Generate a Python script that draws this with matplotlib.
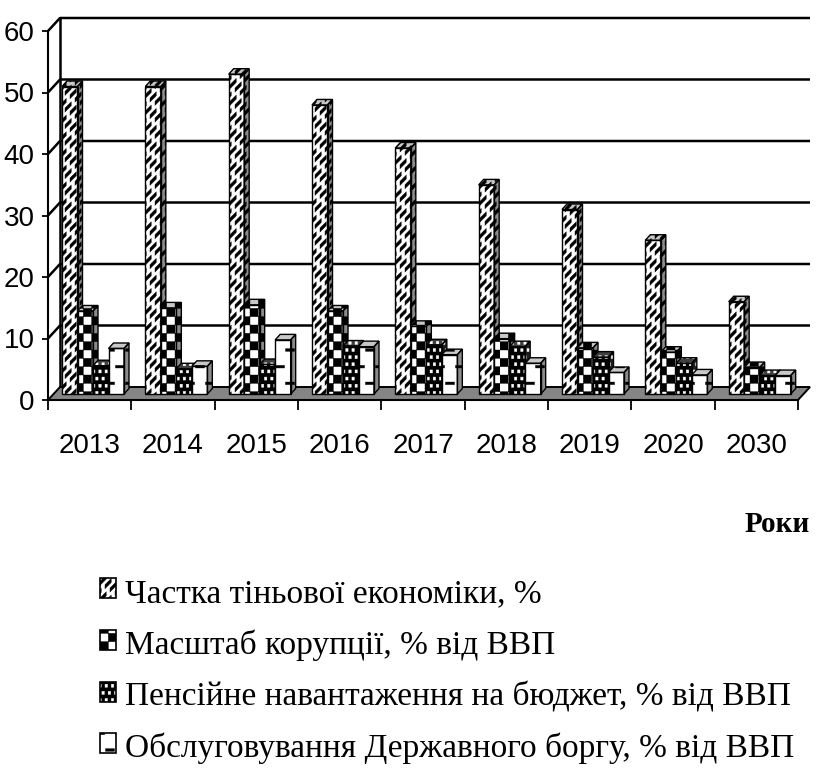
import warnings
import numpy as np
import matplotlib
matplotlib.use("Agg")
import matplotlib.pyplot as plt
import matplotlib.hatch as mhatch
from matplotlib.path import Path
from matplotlib.patches import Polygon, Rectangle
from matplotlib.transforms import ScaledTranslation

warnings.filterwarnings("ignore")

# ---------------------------------------------------------------- data
years = ["2013", "2014", "2015", "2016", "2017", "2018", "2019", "2020", "2030"]
shadow_economy = [50, 50, 52, 47, 40, 34, 30, 25, 15]
corruption = [13.5, 14, 14.5, 13.5, 11, 9, 7.5, 6.8, 4.3]
pension_load = [4.6, 4.1, 4.8, 7.8, 8.0, 7.7, 6.0, 5.0, 3.0]
debt_service = [7.4, 4.5, 8.8, 7.7, 6.4, 5.0, 3.5, 3.1, 3.0]
series_labels = [
    "Частка тіньової економіки, %",
    "Масштаб корупції, % від ВВП",
    "Пенсійне навантаження на бюджет, % від ВВП",
    "Обслуговування Державного боргу, % від ВВП",
]
y_ticks = [0, 10, 20, 30, 40, 50, 60]
x_title = "Роки"


# ------------------------------------------------------- fill patterns
def _tile(polys):
    verts, codes = [], []
    for p in polys:
        p = list(p)
        verts += p + [p[0]]
        codes += [Path.MOVETO] + [Path.LINETO] * (len(p) - 1) + [Path.CLOSEPOLY]
    return np.array(verts, float), np.array(codes, dtype=Path.code_type)


def _rect(x0, y0, w, h):
    return [(x0, y0), (x0 + w, y0), (x0 + w, y0 + h), (x0, y0 + h)]


def _diag_dashes():
    polys = []
    n_lines, n_dash, th = 12, 10, 0.04
    for k in range(-n_lines, 2 * n_lines):
        c = k / n_lines
        for j in range(-2, n_dash + 2):
            x0 = j / n_dash + (k % 2) * 0.05
            x1 = x0 + 0.062
            polys.append([(x0, x0 + c - th / 2), (x1, x1 + c - th / 2),
                          (x1, x1 + c + th / 2), (x0, x0 + c + th / 2)])
    return polys


def _checker():
    n = 12
    return [_rect(i / n, j / n, 1 / n, 1 / n)
            for i in range(n) for j in range(n) if (i + j) % 2 == 0]


def _dots():
    nx, ny = 16, 14
    polys = []
    for j in range(ny + 1):
        off = 0.5 / nx if j % 2 else 0.0
        for i in range(-1, nx + 1):
            polys.append(_rect(i / nx + off - 0.012, j / ny - 0.015, 0.024, 0.03))
    return polys


def _dashes():
    nx, ny = 5, 6
    polys = []
    for j in range(ny + 1):
        off = 0.5 / nx if j % 2 else 0.0
        for i in range(-1, nx + 1):
            polys.append(_rect(i / nx + off - 0.045, j / ny - 0.013, 0.09, 0.026))
    return polys


def _make_hatch(ch, polys):
    data = _tile(polys)

    class _TileHatch(mhatch.HatchPatternBase):
        def __init__(self, hatch, density):
            self.num_vertices = len(data[0]) if ch in hatch else 0

        def set_vertices_and_codes(self, vertices, codes):
            vertices[:] = data[0]
            codes[:] = data[1]

    mhatch._hatch_types.append(_TileHatch)


_make_hatch("s", _diag_dashes())
_make_hatch("c", _checker())
_make_hatch("p", _dots())
_make_hatch("d", _dashes())

plt.rcParams["hatch.linewidth"] = 0.3
plt.rcParams["font.family"] = ["Liberation Sans Narrow", "Liberation Sans", "DejaVu Sans"]

# (face colour, side colour, top colour, hatch, hatch colour)
styles = [
    ("white", "#8c8c8c", "#c8c8c8", "s", "black"),
    ("white", "#8c8c8c", "#c8c8c8", "c", "black"),
    ("black", "#202020", "#404040", "p", "white"),
    ("white", "#8c8c8c", "#c8c8c8", "d", "black"),
]
series = [shadow_economy, corruption, pension_load, debt_service]

# ---------------------------------------------------------------- figure
W, H = 818, 772
fig = plt.figure(figsize=(W / 100, H / 100), dpi=100)
ax = fig.add_axes([48 / W, (H - 400) / H, 750 / W, 369 / H])
ax.set_xlim(0, len(years))
ax.set_ylim(0, 60)

px_x = 750 / len(years)      # pixels per category
px_y = 369 / 60              # pixels per unit
wall_dx, wall_dy = 12 / px_x, 13 / px_y      # depth of the floor
box_dx, box_dy = 5 / px_x, 5.5 / px_y        # depth of every column

bar_plane = ax.transData + ScaledTranslation(6 / 100, 6 / 100, fig.dpi_scale_trans)

# floor
n = len(years)
ax.add_patch(Polygon([(0, 0), (n, 0), (n + wall_dx, wall_dy), (wall_dx, wall_dy)],
                     closed=True, facecolor="#858585", edgecolor="black", lw=1.4,
                     zorder=1, clip_on=False))

# walls and gridlines
grid_kw = dict(color="black", lw=1.8, zorder=2, clip_on=False, solid_capstyle="butt")
for v in y_ticks[1:]:
    ax.plot([0, wall_dx, n + wall_dx], [v, v + wall_dy, v + wall_dy], **grid_kw)
ax.plot([wall_dx, wall_dx], [wall_dy, 60 + wall_dy], **grid_kw)

# columns
bar_w = 15.5 / px_x
for k, (vals, (fc, sc, tc, hatch, hc)) in enumerate(zip(series, styles)):
    x = np.arange(n) + 0.096 + (k + 0.5) * bar_w
    z = 10 + k
    fill = ax.bar(x, vals, width=bar_w, color=fc, edgecolor=hc, linewidth=0,
                  hatch=hatch, transform=bar_plane, zorder=z, clip_on=False)
    for rect in fill:
        x0, w, h = rect.get_x(), rect.get_width(), rect.get_height()
        x1 = x0 + w
        side = [(x1, 0), (x1 + box_dx, box_dy), (x1 + box_dx, h + box_dy), (x1, h)]
        top = [(x0, h), (x1, h), (x1 + box_dx, h + box_dy), (x0 + box_dx, h + box_dy)]
        for poly, col in ((side, sc), (top, tc)):
            ax.add_patch(Polygon(poly, closed=True, facecolor=col, edgecolor=hc,
                                 lw=0, hatch=hatch, transform=bar_plane,
                                 zorder=z, clip_on=False))
            ax.add_patch(Polygon(poly, closed=True, fill=False, edgecolor="black",
                                 lw=1.0, transform=bar_plane, zorder=z + 0.01,
                                 clip_on=False))
    ax.bar(x, vals, width=bar_w, fill=False, edgecolor="black", linewidth=1.0,
           transform=bar_plane, zorder=z + 0.01, clip_on=False)

# axes
for side in ("top", "right"):
    ax.spines[side].set_visible(False)
for side in ("left", "bottom"):
    ax.spines[side].set_linewidth(1.5)
    ax.spines[side].set_zorder(3)
ax.set_facecolor("none")

ax.set_yticks(y_ticks)
ax.set_yticklabels([str(v) for v in y_ticks])
ax.tick_params(axis="y", length=4.5, width=1.3, pad=5, labelsize=20)
ax.set_xticks(np.arange(n) + 0.5)
ax.set_xticklabels(years)
ax.set_xticks(np.arange(n + 1), minor=True)
ax.tick_params(axis="x", which="major", length=0, pad=24, labelsize=20)
ax.tick_params(axis="x", which="minor", length=7.5, width=1.3)

fig.text(810 / W, (H - 532) / H, x_title, ha="right", va="baseline",
         family=["Liberation Serif", "DejaVu Serif"], weight="bold", fontsize=21)

# legend
baselines = [602, 654, 706, 757]
for lbl, (fc, sc, tc, hatch, hc), yb in zip(series_labels, styles, baselines):
    sw = Rectangle((100 / W, (H - yb + 4) / H), 16 / W, 20 / H,
                   transform=fig.transFigure, facecolor=fc, edgecolor=hc,
                   lw=0, hatch=hatch)
    fig.add_artist(sw)
    fig.add_artist(Rectangle((100 / W, (H - yb + 4) / H), 16 / W, 20 / H,
                             transform=fig.transFigure, fill=False,
                             edgecolor="black", lw=1.2))
    fig.text(125 / W, (H - yb) / H, lbl, ha="left", va="baseline",
             family=["Liberation Serif", "DejaVu Serif"], fontsize=24)

fig.savefig("out.png", dpi=100)
